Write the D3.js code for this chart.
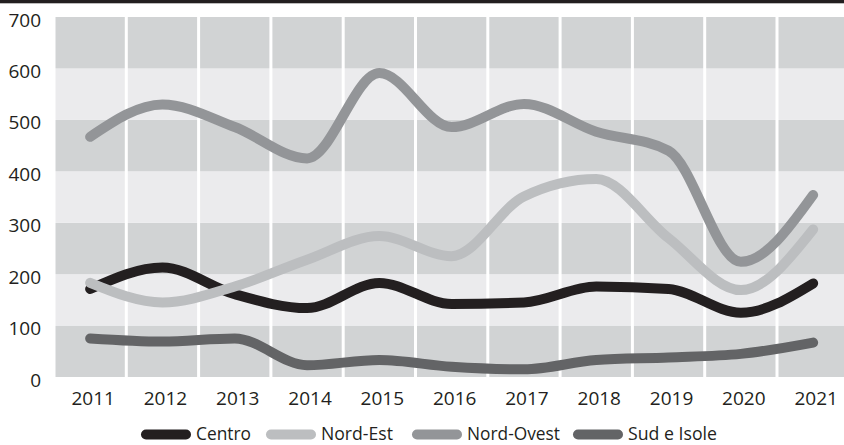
<!DOCTYPE html>
<html>
<head>
<meta charset="utf-8">
<script src="https://cdn.jsdelivr.net/npm/d3@7"></script>
<style>
  html, body { margin: 0; padding: 0; background: #ffffff; }
  svg { display: block; }
  text { font-family: "Open Sans", "Noto Sans", sans-serif; fill: #231f20; }
</style>
</head>
<body>
<svg id="chart" width="844" height="445"></svg>
<script>
// Anni e serie per ripartizione geografica
const years = ["2011", "2012", "2013", "2014", "2015", "2016", "2017", "2018", "2019", "2020", "2021"];
const centro    = [171, 213, 161, 134, 183, 142, 145, 176, 171, 125, 182];
const nordEst   = [183, 145, 176, 228, 274, 235, 351, 385, 270, 169, 287];
const nordOvest = [467, 530, 486, 425, 591, 486, 531, 477, 440, 224, 354];
const sudIsole  = [75, 69, 75, 23, 33, 20, 15, 33, 38, 45, 67];
const yTicks = [0, 100, 200, 300, 400, 500, 600, 700];

const seriesNames = ["Centro", "Nord-Est", "Nord-Ovest", "Sud e Isole"];
const seriesValues = [centro, nordEst, nordOvest, sudIsole];
const seriesColors = ["#231f20", "#bcbec0", "#939598", "#636466"];

const W = 844, H = 445;
const svg = d3.select("#chart");

// Barra scura in alto
svg.append("rect").attr("x", 0).attr("y", 0).attr("width", W).attr("height", 3.3).attr("fill", "#231f20");

const x = d3.scaleBand().domain(years).range([54, 849.3]).paddingInner(0).paddingOuter(0);
const y = d3.scaleLinear().domain([0, 700]).range([377, 17]);

const plot = svg.append("g");

// Fasce orizzontali alternate
const bands = d3.pairs(yTicks);
plot.selectAll("rect.band").data(bands).join("rect")
  .attr("class", "band")
  .attr("x", x.range()[0])
  .attr("width", x.range()[1] - x.range()[0])
  .attr("y", d => y(d[1]))
  .attr("height", d => y(d[0]) - y(d[1]))
  .attr("fill", (d, i) => i % 2 === 0 ? "#d1d3d4" : "#ebebed");

// Separatori verticali bianchi tra gli anni
plot.selectAll("line.sep").data(years).join("line")
  .attr("class", "sep")
  .attr("x1", d => x(d)).attr("x2", d => x(d))
  .attr("y1", y(700)).attr("y2", y(0))
  .attr("stroke", "#ffffff").attr("stroke-width", 3);

// Assi
const yAxis = svg.append("g").attr("transform", "translate(41,0)")
  .call(d3.axisLeft(y).tickValues(yTicks).tickSize(0).tickPadding(0));
yAxis.select(".domain").remove();
yAxis.selectAll("text").style("font-size", "19px").attr("dy", "9px")
  .style("font-family", "'Open Sans', sans-serif").attr("fill", "#231f20");

const xAxis = svg.append("g").attr("transform", "translate(3,0)")
  .call(d3.axisBottom(x).tickSize(0).tickPadding(0));
xAxis.select(".domain").remove();
xAxis.selectAll("text").style("font-size", "19px").attr("y", 404.5).attr("dy", null)
  .style("font-family", "'Open Sans', sans-serif").attr("fill", "#231f20");

// Linee delle serie
const line = d3.line()
  .x((d, i) => x(years[i]) + x.bandwidth() / 2)
  .y(d => y(d))
  .curve(d3.curveMonotoneX);

svg.append("g").selectAll("path").data(seriesValues).join("path")
  .attr("d", d => line(d))
  .attr("fill", "none")
  .attr("stroke", (d, i) => seriesColors[i])
  .attr("stroke-width", 10)
  .attr("stroke-linecap", "round")
  .attr("stroke-linejoin", "round");

// Legenda
const legendX = [141, 266, 412, 573];
const legendTextW = [55, 72, 93, 89];
const legend = svg.append("g");
const items = legend.selectAll("g").data(seriesNames).join("g")
  .attr("transform", (d, i) => `translate(${legendX[i]},434.5)`);
items.append("line")
  .attr("x1", 5).attr("x2", 45).attr("y1", 0).attr("y2", 0)
  .attr("stroke", (d, i) => seriesColors[i])
  .attr("stroke-width", 10)
  .attr("stroke-linecap", "round");
items.append("text")
  .attr("x", 55).attr("y", 5.5)
  .style("font-size", "19px")
  .attr("textLength", (d, i) => legendTextW[i])
  .attr("lengthAdjust", "spacingAndGlyphs")
  .text(d => d);
</script>
</body>
</html>
